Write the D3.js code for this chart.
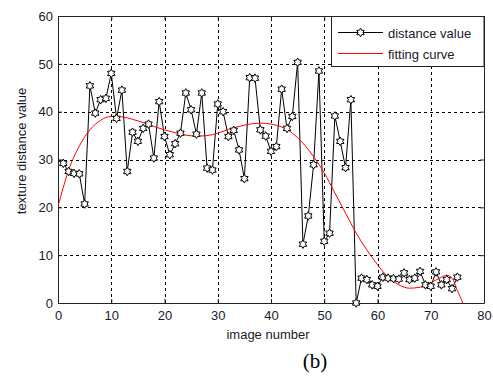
<!DOCTYPE html>
<html>
<head>
<meta charset="utf-8">
<script src="https://cdn.jsdelivr.net/npm/d3@7"></script>
<style>
  body { margin: 0; background: #fff; }
  svg { display: block; font-family: "Liberation Sans", Arial, sans-serif; }
</style>
</head>
<body>
<svg id="chart"></svg>
<script>
const WIDTH = 493;
const HEIGHT = 378;

// image number 1..75 and the texture distance value
const imageNumbers = d3.range(1, 76);
const distanceValues = [
  29.2, 27.5, 27.1, 27.0, 20.7, 45.4, 39.7, 42.5, 42.8, 48.0,
  38.6, 44.5, 27.5, 35.7, 33.8, 36.5, 37.4, 30.3, 42.1, 34.8,
  31.0, 33.3, 35.5, 43.9, 40.4, 35.3, 43.9, 28.2, 27.8, 41.6,
  40.0, 34.8, 36.1, 32.0, 26.0, 47.1, 47.0, 36.2, 34.9, 31.7,
  32.7, 44.7, 36.5, 39.0, 50.3, 12.3, 18.2, 28.9, 48.5, 12.9,
  14.6, 39.1, 33.8, 28.3, 42.5, 0.0, 5.2, 4.9, 3.8, 3.5,
  5.4, 5.2, 5.1, 5.0, 6.3, 4.9, 5.2, 6.6, 3.8, 3.5,
  6.5, 3.8, 4.9, 3.0, 5.4
];

// fitting curve, sampled off the figure
const fitX = [0, 1, 2, 4, 6, 8, 10, 12, 14, 16, 18, 20, 22, 24, 26, 28, 30, 32, 34, 36, 38,
  40, 42, 44, 46, 48, 50, 52, 54, 56, 58, 60, 62, 64, 66, 68, 70, 72, 73, 74, 75, 76, 77];
const fitY = [20.2, 24.2, 27.8, 32.8, 36.2, 38.2, 39.0, 38.9, 38.4, 37.7, 36.9, 36.2, 35.6, 35.1, 34.9, 35.0, 35.5, 36.3, 36.9, 37.4, 37.6,
  37.4, 36.8, 35.5, 33.4, 30.6, 27.2, 23.0, 18.8, 14.6, 11.1, 8.0, 5.4, 3.8, 3.1, 3.3, 4.2, 5.4, 5.8, 5.2, 2.6, 0.0, -4.0];

const xTicks = [0, 10, 20, 30, 40, 50, 60, 70, 80];
const yTicks = [0, 10, 20, 30, 40, 50, 60];
const legendLabels = ["distance value", "fitting curve"];

const margin = { left: 58, right: 9, top: 16, bottom: 75 };
const textColor = "#1a1a2a";

const svg = d3.select("#chart").attr("width", WIDTH).attr("height", HEIGHT);

const x = d3.scaleLinear().domain([0, 80]).range([margin.left, WIDTH - margin.right]);
const y = d3.scaleLinear().domain([0, 60]).range([HEIGHT - margin.bottom, margin.top]);

// grid
const grid = svg.append("g").attr("stroke", "#000").attr("stroke-width", 1)
  .attr("stroke-dasharray", "3,3");
grid.selectAll(".gx").data(xTicks.slice(1, -1)).enter().append("line")
  .attr("x1", d => Math.round(x(d)) + 0.5).attr("x2", d => Math.round(x(d)) + 0.5)
  .attr("y1", y(0)).attr("y2", y(60));
grid.selectAll(".gy").data(yTicks.slice(1, -1)).enter().append("line")
  .attr("y1", d => Math.round(y(d)) + 0.5).attr("y2", d => Math.round(y(d)) + 0.5)
  .attr("x1", x(0)).attr("x2", x(80));

// axes, ticks pointing inward as in MATLAB
svg.append("g").attr("transform", `translate(0,${y(0)})`)
  .call(d3.axisBottom(x).tickValues(xTicks).tickSizeInner(-4).tickSizeOuter(0).tickPadding(8));
svg.append("g").attr("transform", `translate(${x(0)},0)`)
  .call(d3.axisLeft(y).tickValues(yTicks).tickSizeInner(-4).tickSizeOuter(0).tickPadding(5));
svg.append("g").attr("transform", `translate(0,${y(60)})`)
  .call(d3.axisTop(x).tickValues(xTicks).tickSizeInner(-4).tickSizeOuter(0).tickFormat(""));
svg.append("g").attr("transform", `translate(${x(80)},0)`)
  .call(d3.axisRight(y).tickValues(yTicks).tickSizeInner(-4).tickSizeOuter(0).tickFormat(""));

svg.selectAll(".domain").attr("stroke", "#222");
svg.selectAll(".tick line").attr("stroke", "#222");
svg.selectAll(".tick text").attr("font-size", 13).attr("fill", textColor)
  .attr("font-family", "Liberation Sans, Arial, sans-serif");

// plot area clip
svg.append("clipPath").attr("id", "clip").append("rect")
  .attr("x", x(0)).attr("y", y(60)).attr("width", x(80) - x(0)).attr("height", y(0) - y(60));

const plot = svg.append("g").attr("clip-path", "url(#clip)");

// data line
const pts = imageNumbers.map((n, i) => [n, distanceValues[i]]);
plot.append("path").datum(pts)
  .attr("fill", "none").attr("stroke", "#000").attr("stroke-width", 1)
  .attr("d", d3.line().x(d => x(d[0])).y(d => y(d[1])));

// fitting curve
const fit = fitX.map((v, i) => [v, fitY[i]]);
plot.append("path").datum(fit)
  .attr("fill", "none").attr("stroke", "#ff0000").attr("stroke-width", 1)
  .attr("d", d3.line().curve(d3.curveMonotoneX).x(d => x(d[0])).y(d => y(d[1])));

// hexagram marker
const hexagram = (() => {
  const R = 4.3, r = 2.5, p = [];
  for (let k = 0; k < 12; k++) {
    const a = -Math.PI / 2 + k * Math.PI / 6;
    const rr = k % 2 === 0 ? R : r;
    p.push([rr * Math.cos(a), rr * Math.sin(a)]);
  }
  return "M" + p.map(q => q[0].toFixed(2) + "," + q[1].toFixed(2)).join("L") + "Z";
})();

svg.append("g").selectAll("path").data(pts).enter().append("path")
  .attr("d", hexagram)
  .attr("transform", d => `translate(${x(d[0])},${y(d[1])})`)
  .attr("fill", "#fff").attr("stroke", "#000").attr("stroke-width", 1);

// legend
const lg = svg.append("g");
lg.append("rect").attr("x", 331.5).attr("y", y(60) + 0.5)
  .attr("width", x(80) - 331.5).attr("height", 50)
  .attr("fill", "#fff").attr("stroke", "#222");
lg.append("line").attr("x1", 338).attr("x2", 383).attr("y1", 32.5).attr("y2", 32.5)
  .attr("stroke", "#000");
lg.append("path").attr("d", hexagram).attr("transform", "translate(360.5,32.5)")
  .attr("fill", "#fff").attr("stroke", "#000");
lg.append("line").attr("x1", 338).attr("x2", 383).attr("y1", 53.5).attr("y2", 53.5)
  .attr("stroke", "#ff0000");
lg.selectAll("text").data(legendLabels).enter().append("text")
  .attr("x", 388).attr("y", (d, i) => 37.5 + i * 21)
  .attr("font-size", 13).attr("fill", textColor).text(d => d);

// axis labels
svg.append("text").attr("x", 268).attr("y", 339).attr("text-anchor", "middle")
  .attr("font-size", 13).attr("fill", textColor).text("image number");
svg.append("text").attr("transform", `translate(26,151) rotate(-90)`)
  .attr("text-anchor", "middle").attr("font-size", 13).attr("fill", textColor)
  .text("texture distance value");

svg.append("text").attr("x", 315).attr("y", 368).attr("text-anchor", "middle")
  .attr("font-family", "Liberation Serif, Times New Roman, serif")
  .attr("font-size", 21).attr("fill", "#000").text("(b)");
</script>
</body>
</html>
